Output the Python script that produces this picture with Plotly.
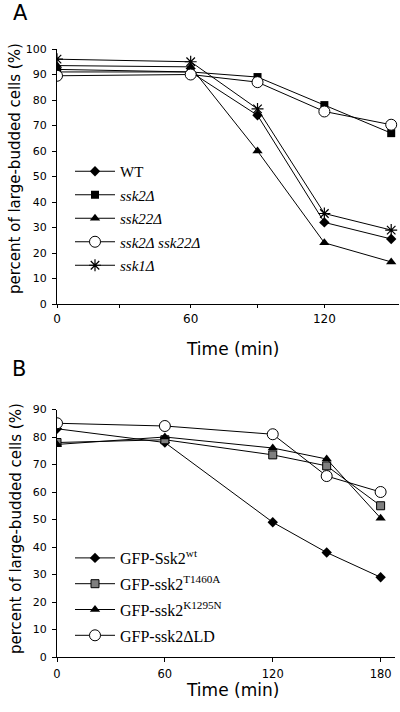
import plotly.graph_objects as go

# Panel A data
time_a = [0, 60, 90, 120, 150]
wt_a = [92, 91, 74, 32, 25.5]
ssk2_a = [91, 91, 89, 78, 67]
ssk22_a = [93.5, 93, 60, 24, 16.5]
ssk2ssk22_a = [89.5, 90, 87, 75.5, 70.3]
ssk1_a = [96, 95, 76.5, 35.5, 29]
names_a = ["WT", "<i>ssk2Δ</i>", "<i>ssk22Δ</i>", "<i>ssk2Δ ssk22Δ</i>", "<i>ssk1Δ</i>"]
ticks_a = [0, 28, 60, 90, 120]
ticklabels_a = ["0", "", "60", "", "120"]

# Panel B data
time_b = [0, 60, 120, 150, 180]
gfp_wt = [83, 78, 49, 38, 29]
gfp_t1460a = [78, 79, 73.5, 69.5, 55]
gfp_k1295n = [77.3, 80, 76, 72, 50.5]
gfp_dld = [85, 84, 81, 65.8, 60]
names_b = ["GFP-Ssk2<sup>wt</sup>", "GFP-ssk2<sup>T1460A</sup>",
           "GFP-ssk2<sup>K1295N</sup>", "GFP-ssk2ΔLD"]
ticks_b = [0, 60, 120, 180]

W, H = 400, 712
ML, MR, MT, MB = 30, 0, 30, 30
PW, PH = W - ML - MR, H - MT - MB
def fx(px): return (px - ML) / PW
def fy(py): return 1 - (py - MT) / PH

fig = go.Figure()
line = dict(color="black", width=1)

styles_a = [
    dict(symbol="diamond", size=8, color="black"),
    dict(symbol="square", size=8, color="black"),
    dict(symbol="triangle-up", size=9, color="black"),
    dict(symbol="circle", size=11, color="white", line=dict(color="black", width=1)),
    dict(symbol="asterisk-open", size=10, color="black", line=dict(color="black", width=1.2)),
]
for i, (ys, nm, st) in enumerate(zip([wt_a, ssk2_a, ssk22_a, ssk2ssk22_a, ssk1_a], names_a, styles_a)):
    fig.add_trace(go.Scatter(x=time_a, y=ys, name=nm, mode="lines+markers",
                             line=line, marker=st, xaxis="x", yaxis="y",
                             legend="legend", legendgroup="a%d" % i))

styles_b = [
    dict(symbol="diamond", size=8, color="black"),
    dict(symbol="square", size=8, color="#7f7f7f", line=dict(color="black", width=1)),
    dict(symbol="triangle-up", size=9, color="black"),
    dict(symbol="circle", size=11, color="white", line=dict(color="black", width=1)),
]
for i, (ys, nm, st) in enumerate(zip([gfp_wt, gfp_t1460a, gfp_k1295n, gfp_dld], names_b, styles_b)):
    fig.add_trace(go.Scatter(x=time_b, y=ys, name=nm, mode="lines+markers",
                             line=line, marker=st, xaxis="x2", yaxis="y2",
                             legend="legend2", legendgroup="b%d" % i))

SANS = "DejaVu Sans"
common = dict(showline=True, linecolor="black", linewidth=1, ticks="outside",
              tickcolor="black", showgrid=False, zeroline=False, automargin=False)
def sf(size): return dict(family=SANS, size=size, color="black")

fig.update_layout(
    width=W, height=H, margin=dict(l=ML, r=MR, t=MT, b=MB, autoexpand=False),
    paper_bgcolor="white", plot_bgcolor="white", showlegend=True,
    xaxis=dict(domain=[fx(57), fx(399)], range=[0, 153.5], anchor="y",
               tickvals=ticks_a, ticktext=ticklabels_a,
               ticklen=3, tickfont=sf(12), ticklabelstandoff=1, **common),
    yaxis=dict(domain=[fy(304), fy(49)], range=[0, 100], anchor="x",
               tickvals=list(range(0, 101, 10)), ticklen=4, tickfont=sf(11),
               ticklabelstandoff=3, **common),
    xaxis2=dict(domain=[fx(57), fx(395)], range=[0, 188], anchor="y2",
                tickvals=ticks_b, ticklen=4, tickfont=sf(11.5),
                ticklabelstandoff=2, **common),
    yaxis2=dict(domain=[fy(657), fy(409.5)], range=[0, 90], anchor="x2",
                tickvals=list(range(0, 91, 10)), ticklen=4, tickfont=sf(11),
                ticklabelstandoff=3, **common),
    legend=dict(x=fx(70), y=fy(155), xanchor="left", yanchor="top",
                bgcolor="rgba(0,0,0,0)", itemwidth=40, traceorder="grouped",
                tracegroupgap=1,
                font=dict(family="Liberation Serif", size=15, color="black")),
    legend2=dict(x=fx(70), y=fy(541), xanchor="left", yanchor="top",
                 bgcolor="rgba(0,0,0,0)", itemwidth=40, traceorder="grouped",
                 tracegroupgap=2,
                 font=dict(family="Liberation Serif", size=16, color="black")),
)

def note(text, px, py, size, angle=0):
    return dict(text=text, x=fx(px), y=fy(py), xref="paper", yref="paper",
                xanchor="center", yanchor="middle", textangle=angle,
                showarrow=False, font=sf(size))

ytitle = "percent of large-budded cells (%)"
ann = [
    note("A", 20, 13, 21),
    note("B", 19, 369, 21),
    note(ytitle, 15, 169, 15, -90),
    note(ytitle, 16, 529, 15, -90),
    note("Time (min)", 232, 349, 17),
    note("Time (min)", 232, 690, 17),
]
fig.update_layout(annotations=ann)

fig.write_html("out.html", config={"displayModeBar": False},
               post_script="document.body.style.margin='0';")
